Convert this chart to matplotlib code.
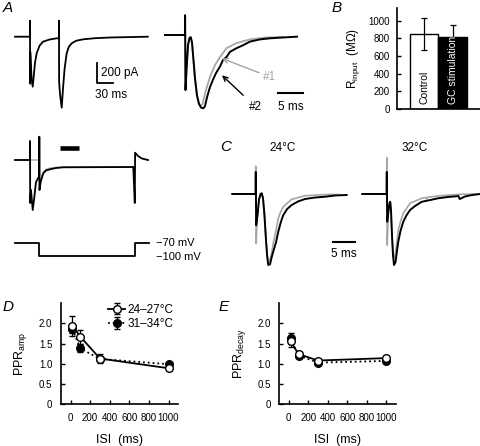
import matplotlib
matplotlib.use("Agg")
import matplotlib.pyplot as plt

plt.rcParams["font.family"] = ["Liberation Sans", "DejaVu Sans"]
plt.rcParams["mathtext.fontset"] = "custom"
plt.rcParams["mathtext.rm"] = "Liberation Sans"
plt.rcParams["mathtext.it"] = "Liberation Sans:italic"

GREY = "#a6a6a6"

# ---- A, top left: paired EPSCs (ms, pA)
a1_t = [0, 28.0, 28.1, 28.3, 28.6, 29.2, 31.0, 33.2, 35.0, 37.5, 40.7, 46, 52.5, 65, 78.2,
        82.4, 82.5, 82.7, 84.5, 87.6, 90, 93, 96.9, 101, 106.3, 115, 128, 150, 178, 249]
a1_i = [0, 0, 160, -470, -150, -200, -420, -500, -400, -260, -165, -90, -50, -28, -16,
        -15, 160, -450, -580, -710, -520, -320, -166, -100, -66, -40, -26, -15, -8, 0]

# ---- A, top right: normalised #1 (grey) and #2 (black)
a2_t_black = [0, 3.98, 4.02, 4.1, 4.3, 4.6, 4.9, 5.14, 5.4, 5.7, 6.0, 6.4, 6.8, 7.2, 7.66,
              8.0, 8.4, 9.0, 9.6, 10.2, 11.0, 11.6, 12.3, 13.0, 14.3, 15.6, 17.0, 19.0,
              21.0, 23.6, 26.4]
a2_i_black = [0, 0, 0.27, -0.75, -0.48, -0.14, -0.04, -0.03, -0.1, -0.34, -0.59, -0.82,
              -0.94, -0.99, -1.0, -0.97, -0.85, -0.71, -0.61, -0.52, -0.43, -0.34, -0.30,
              -0.23, -0.18, -0.14, -0.09, -0.06, -0.045, -0.034, -0.023]
a2_t_grey = [0, 3.98, 4.02, 4.1, 4.3, 4.6, 4.9, 5.14, 5.4, 5.7, 6.0, 6.4, 6.8, 7.14, 7.5,
             7.8, 8.2, 9.0, 10.0, 11.0, 12.3, 14.3, 17.0, 20.0, 23.6]
a2_i_grey = [0, 0, 0.27, -0.75, -0.48, -0.14, -0.04, -0.03, -0.11, -0.37, -0.61, -0.85,
             -0.94, -0.97, -0.94, -0.86, -0.75, -0.57, -0.41, -0.30, -0.18, -0.11, -0.06,
             -0.034, -0.027]

# ---- A, bottom: EPSC during hyperpolarising step (ms, pA) and command (mV)
a3_t_black = [0, 27.9, 28.1, 28.5, 30, 33.2, 35.6, 39.4, 45.4, 45.6, 45.9, 48.2, 53.1, 58,
              65.6, 77, 90.6, 221.8, 224.6, 225.2, 230.6, 238, 249.4]
a3_i_black = [0, 0, 190, -430, -300, -500, -400, -220, -160, 233, -300, -217, -133, -105,
              -93, -80, -73, -70, -430, 73, 40, 15, 0]
a3_t_grey = [0, 45.4, 45.6, 45.9, 47.5, 50, 53, 58, 65, 77, 90, 221.8]
a3_i_grey = [0, 0, 233, -300, -230, -160, -120, -95, -82, -74, -71, -70]
step_t = [0, 45.6, 45.6, 225, 225, 251]
step_v = [-70, -70, -100, -100, -70, -70]

# ---- B: input resistance
b_labels = ["Control", "GC stimulation"]
b_vals = [850, 810]
b_err = [180, 145]

# ---- C: normalised EPSCs at 24 and 32 C
c24_t_black = [0, 5.22, 5.26, 5.35, 5.65, 5.98, 6.32, 6.59, 6.88, 7.21, 7.55, 7.84, 8.06,
               8.45, 8.78, 9.18, 9.79, 10.3, 10.9, 11.4, 12.3, 13.3, 14.7, 16.3, 18.5,
               20.8, 23.0, 25.6]
c24_i_black = [0, 0, 0.31, -0.44, -0.30, -0.08, 0, 0.01, -0.06, -0.30, -0.65, -0.90, -1.0,
               -0.99, -0.90, -0.81, -0.68, -0.53, -0.39, -0.30, -0.21, -0.155, -0.106,
               -0.07, -0.05, -0.038, -0.021, -0.014]
c24_t_grey = [0, 5.22, 5.26, 5.35, 5.6, 5.98, 6.32, 6.59, 6.88, 7.21, 7.55, 7.84, 8.2, 8.5,
              8.9, 9.18, 9.8, 10.3, 10.9, 11.4, 12.3, 13.3, 16.3, 21.9, 24.0]
c24_i_grey = [0, 0, 0.39, -0.70, -0.30, -0.08, 0, 0.01, -0.06, -0.32, -0.66, -0.87, -0.95,
              -0.92, -0.80, -0.69, -0.51, -0.34, -0.24, -0.18, -0.13, -0.075, -0.024,
              -0.005, -0.01]
c32_t_black = [0, 5.44, 5.49, 5.58, 5.82, 6.09, 6.25, 6.43, 6.65, 6.88, 7.1, 7.44, 7.73,
               8.06, 8.56, 9.18, 9.9, 10.7, 11.8, 13.3, 15.2, 17.0, 19.2, 21.0, 21.55,
               21.8, 22.1, 23.0, 24.6, 26.4]
c32_i_black = [0, 0, 0.31, -0.39, -0.25, -0.13, -0.11, -0.23, -0.58, -0.86, -1.0, -0.96,
               -0.82, -0.67, -0.52, -0.39, -0.30, -0.225, -0.17, -0.11, -0.085, -0.06,
               -0.042, -0.032, -0.028, -0.07, -0.063, -0.035, -0.014, 0]
c32_t_grey = [0, 5.44, 5.49, 5.58, 5.82, 6.09, 6.25, 6.43, 6.65, 6.88, 7.05, 7.35, 7.7,
              8.06, 8.6, 9.18, 10.7, 13.3, 14.2, 14.4, 14.6, 17.0, 21.5, 26.4]
c32_i_grey = [0, 0, 0.51, -0.72, -0.30, -0.13, -0.11, -0.23, -0.58, -0.84, -0.90, -0.86,
              -0.70, -0.51, -0.38, -0.27, -0.13, -0.06, -0.05, -0.07, -0.045, -0.028,
              -0.005, 0]

# ---- D / E: paired-pulse ratios
isi = [20, 100, 300, 1000]
ppr_amp_rt = [1.94, 1.67, 1.13, 0.89]
ppr_amp_rt_err = [0.25, 0.17, 0.10, 0.05]
ppr_amp_pt = [1.85, 1.38, 1.12, 0.99]
ppr_amp_pt_err = [0.10, 0.10, 0.05, 0.04]
ppr_dec_rt = [1.55, 1.24, 1.08, 1.14]
ppr_dec_rt_err = [0.13, 0.05, 0.04, 0.04]
ppr_dec_pt = [1.63, 1.20, 1.03, 1.07]
ppr_dec_pt_err = [0.13, 0.05, 0.04, 0.04]

W, H = 480, 446
fig = plt.figure(figsize=(W / 100, H / 100), dpi=100)


def px_axes(l, t, r, b):
    return fig.add_axes([l / W, 1 - b / H, (r - l) / W, (b - t) / H])


def trace_axes(l, t, r, b, x0, y0, sx, sy, v0=0):
    # (x0, y0): pixel position of (t=0, value=v0); sx, sy: data units per pixel
    ax = px_axes(l, t, r, b)
    ax.set_xlim((l - x0) * sx, (r - x0) * sx)
    ax.set_ylim(v0 - (b - y0) * sy, v0 + (y0 - t) * sy)
    ax.axis("off")
    return ax


def ftext(x, y, s, **kw):
    fig.text(x / W, 1 - y / H, s, **kw)


# panel letters
for x, y, s in [(3, 8, "A"), (332, 8, "B"), (220, 147, "C"), (3, 307, "D"), (219, 307, "E")]:
    ftext(x, y, s, fontsize=11, style="italic", va="center", ha="left")

# A top left
ax = trace_axes(10, 10, 160, 125, 15, 36.7, 1.875, 10)
ax.plot(a1_t, a1_i, color="black", lw=1.3)
ax.plot([153, 153, 183], [-260, -460, -460], color="black", lw=1.3)
ax.text(162, -365, "200 pA", fontsize=8.5, va="center", ha="left")
ax.text(150, -585, "30 ms", fontsize=8.5, va="center", ha="left")

# A top right
ax = trace_axes(160, 10, 310, 125, 165, 35, 0.2, 1 / 73.3)
ax.plot(a2_t_grey, a2_i_grey, color=GREY, lw=1.3)
ax.plot(a2_t_black, a2_i_black, color="black", lw=1.4)
ax.annotate("#1", xy=(11.4, -0.32), xytext=(19.6, -0.57), color=GREY, fontsize=8.5,
            va="center", ha="left",
            arrowprops=dict(arrowstyle="->", color=GREY, lw=1, shrinkA=1, shrinkB=0))
ax.annotate("#2", xy=(11.4, -0.55), xytext=(16.8, -0.98), color="black", fontsize=8.5,
            va="center", ha="left",
            arrowprops=dict(arrowstyle="->", color="black", lw=1, shrinkA=3, shrinkB=0))
ax.plot([22.66, 27.66], [-0.795, -0.795], color="black", lw=1.5)
ax.text(25.16, -0.98, "5 ms", fontsize=8.5, va="center", ha="center")

# A bottom
ax = trace_axes(10, 130, 160, 225, 15, 160, 1.875, 10)
ax.plot(a3_t_grey, a3_i_grey, color=GREY, lw=1.0)
ax.plot(a3_t_black, a3_i_black, color="black", lw=1.3)
ax.plot([84.4, 120.6], [123, 123], color="black", lw=3.3, solid_capstyle="butt")
ax = trace_axes(10, 232, 160, 265, 15, 243.3, 1.875, 30 / 12.4, v0=-70)
ax.plot(step_t, step_v, color="black", lw=1.3)
ftext(156, 243.5, "\u221270 mV", fontsize=8, va="center")
ftext(156, 257, "\u2212100 mV", fontsize=8, va="center")

# B
ax = px_axes(397, 8, 490, 109)
ax.bar([0, 1], b_vals, width=1, color=["white", "black"], edgecolor="black", lw=1)
ax.errorbar([0, 1], b_vals, yerr=b_err, fmt="none", ecolor="black", elinewidth=0.9,
            capsize=2.5, capthick=0.9)
for i, (lab, c) in enumerate(zip(b_labels, ["black", "white"])):
    ax.text(i, 60, lab, rotation=90, color=c, fontsize=7.5, ha="center", va="bottom")
ax.set_xlim(-0.947, 2.31)
ax.set_ylim(0, 1144)
ax.set_yticks([0, 200, 400, 600, 800, 1000])
ax.set_xticks([])
for s in ["top", "right"]:
    ax.spines[s].set_visible(False)
ax.spines["left"].set_linewidth(1.2)
ax.spines["bottom"].set_linewidth(1.2)
ax.tick_params(axis="y", direction="in", length=3, width=1, labelsize=7, pad=5)
ax.set_ylabel("R$_{\\mathrm{input}}$  (M\u03a9)", fontsize=8.5, labelpad=5)

# C
ftext(283, 148, "24\u00b0C", fontsize=8.5, ha="center", va="center")
ftext(415, 148, "32\u00b0C", fontsize=8.5, ha="center", va="center")
ax = trace_axes(225, 155, 360, 275, 232.3, 194, 0.224, 1 / 71)
ax.plot(c24_t_grey, c24_i_grey, color=GREY, lw=1.2)
ax.plot(c24_t_black, c24_i_black, color="black", lw=1.4)
ax.plot([22.5, 27.5], [-0.672, -0.672], color="black", lw=1.5)
ax.text(25, -0.845, "5 ms", fontsize=8.5, ha="center", va="center")
ax = trace_axes(355, 155, 480, 275, 362.3, 194, 0.224, 1 / 71)
ax.plot(c32_t_grey, c32_i_grey, color=GREY, lw=1.2)
ax.plot(c32_t_black, c32_i_black, color="black", lw=1.4)


def ppr_axes(l, r, ylab, rt, rt_err, pt, pt_err, legend=False):
    ax = px_axes(l, 303, r, 404.3)
    h_pt = ax.errorbar(isi, pt, yerr=pt_err, fmt="o", ls=":", color="black", mfc="black",
                       mec="black", ms=5.5, lw=1.3, elinewidth=0.9, capsize=2)
    h_rt = ax.errorbar(isi, rt, yerr=rt_err, fmt="o", ls="-", color="black", mfc="white",
                       mec="black", mew=1, ms=5.5, lw=1.3, elinewidth=0.9, capsize=2)
    ax.set_xlim(-100, 1100)
    ax.set_ylim(0, 2.5)
    ax.set_xticks([0, 200, 400, 600, 800, 1000])
    ax.set_yticks([0, 0.5, 1.0, 1.5, 2.0])
    ax.set_yticklabels(["0", "0.5", "1.0", "1.5", "2.0"])
    for s in ["top", "right"]:
        ax.spines[s].set_visible(False)
    ax.spines["left"].set_linewidth(1.2)
    ax.spines["bottom"].set_linewidth(1.2)
    ax.tick_params(direction="in", length=3, width=1, labelsize=7, pad=6)
    ax.set_xlabel("ISI  (ms)", fontsize=9, labelpad=8)
    ax.set_ylabel(ylab, fontsize=9, labelpad=7)
    if legend:
        ax.legend([h_rt, h_pt], ["24\u201327\u00b0C", "31\u201334\u00b0C"], frameon=False,
                  fontsize=8.5, handlelength=1.5, handletextpad=0.2, labelspacing=0.2,
                  loc="upper left", bbox_to_anchor=(0.36, 1.04), borderaxespad=0)
    return ax


ppr_axes(60.7, 178.3, "PPR$_{\\mathrm{amp}}$", ppr_amp_rt, ppr_amp_rt_err,
         ppr_amp_pt, ppr_amp_pt_err, legend=True)
ppr_axes(279, 396, "PPR$_{\\mathrm{decay}}$", ppr_dec_rt, ppr_dec_rt_err,
         ppr_dec_pt, ppr_dec_pt_err)

fig.savefig("out.png", dpi=100)
